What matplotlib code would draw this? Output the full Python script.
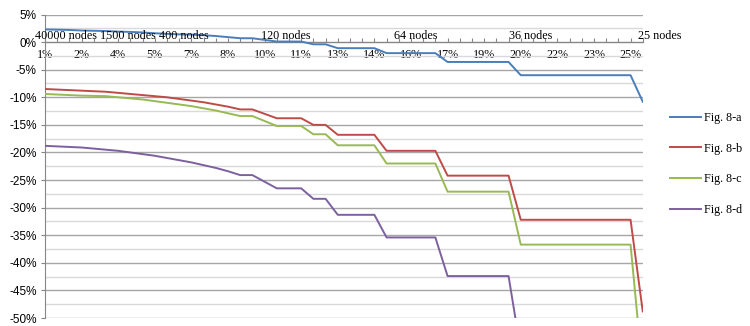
import matplotlib.pyplot as plt
import matplotlib.ticker as mticker
import numpy as np

# x categories (50 points), labelled every third one
tick_labels = ["1%", "2%", "4%", "5%", "7%", "8%", "10%", "11%", "13%", "14%",
               "16%", "17%", "19%", "20%", "22%", "23%", "25%"]

fig_a = [2.3, 2.25, 2.2, 2.1, 2.05, 2.0, 1.9, 1.85, 1.75, 1.6,
         1.5, 1.4, 1.35, 1.25, 1.1, 0.9, 0.7, 0.7, 0.4, 0.1,
         0.1, 0.1, -0.4, -0.4, -1.1, -1.1, -1.1, -1.1, -2.0, -2.0,
         -2.0, -2.0, -2.0, -3.6, -3.6, -3.6, -3.6, -3.6, -3.6, -6.0,
         -6.0, -6.0, -6.0, -6.0, -6.0, -6.0, -6.0, -6.0, -6.0, -10.8]
fig_b = [-8.5, -8.6, -8.7, -8.8, -8.9, -9.0, -9.2, -9.4, -9.6, -9.8,
         -10.0, -10.3, -10.6, -10.9, -11.3, -11.7, -12.2, -12.2, -13.0, -13.8,
         -13.8, -13.8, -15.0, -15.0, -16.8, -16.8, -16.8, -16.8, -19.7, -19.7,
         -19.7, -19.7, -19.7, -24.2, -24.2, -24.2, -24.2, -24.2, -24.2, -32.2,
         -32.2, -32.2, -32.2, -32.2, -32.2, -32.2, -32.2, -32.2, -32.2, -48.8]
fig_c = [-9.4, -9.5, -9.6, -9.7, -9.75, -9.8, -10.0, -10.2, -10.4, -10.7,
         -11.0, -11.3, -11.6, -12.0, -12.4, -12.9, -13.4, -13.4, -14.3, -15.2,
         -15.2, -15.2, -16.7, -16.7, -18.7, -18.7, -18.7, -18.7, -22.0, -22.0,
         -22.0, -22.0, -22.0, -27.1, -27.1, -27.1, -27.1, -27.1, -27.1, -36.7,
         -36.7, -36.7, -36.7, -36.7, -36.7, -36.7, -36.7, -36.7, -36.7, -60.0]
fig_d = [-18.8, -18.9, -19.0, -19.1, -19.3, -19.5, -19.7, -20.0, -20.3, -20.6,
         -21.0, -21.4, -21.8, -22.3, -22.8, -23.4, -24.1, -24.1, -25.3, -26.5,
         -26.5, -26.5, -28.4, -28.4, -31.3, -31.3, -31.3, -31.3, -35.4, -35.4,
         -35.4, -35.4, -35.4, -42.4, -42.4, -42.4, -42.4, -42.4, -42.4, -56.0,
         -56.0, -56.0, -56.0, -56.0, -56.0, -56.0, -56.0, -56.0, -56.0, -75.0]

node_labels = ["40000 nodes", "1500 nodes", "400 nodes", "120 nodes",
               "64 nodes", "36 nodes", "25 nodes"]
node_pos = [1.75, 6.8, 11.35, 19.75, 30.4, 39.8, 50.4]

plt.rcParams['font.family'] = ['Liberation Serif', 'DejaVu Serif']
plt.rcParams['font.size'] = 8.7

fig = plt.figure(figsize=(7.5, 3.26), dpi=100)
ax = fig.add_axes([0.06, 0.0245, 0.797, 0.931])

x = np.arange(len(fig_a))
series = [("Fig. 8-a", fig_a, "#4a7ebb"),
          ("Fig. 8-b", fig_b, "#be4b48"),
          ("Fig. 8-c", fig_c, "#98b954"),
          ("Fig. 8-d", fig_d, "#7d60a0")]
for name, vals, col in series:
    ax.plot(x, vals, color=col, lw=1.4, label=name, zorder=3)

ax.set_xlim(0, len(x) - 1)
ax.set_ylim(-50, 5)

ax.yaxis.set_major_locator(mticker.MultipleLocator(5))
ax.yaxis.set_minor_locator(mticker.MultipleLocator(2.5))
ax.yaxis.set_major_formatter(mticker.FuncFormatter(lambda v, p: f"{int(round(v))}%"))
ax.grid(axis='y', which='major', color='#a6a6a6', lw=1.0)
ax.grid(axis='y', which='minor', color='#d9d9d9', lw=1.0)
ax.set_axisbelow(True)

ax.set_xticks(x)
ax.set_xticklabels([tick_labels[i // 3] if i % 3 == 0 else "" for i in x])
ax.tick_params(axis='x', direction='in', length=3, color='#868686', pad=5)
ax.tick_params(axis='y', which='major', direction='out', length=3, color='#868686', pad=3)
ax.tick_params(axis='y', which='minor', length=0)
for lab in ax.get_yticklabels():
    lab.set_fontfamily(['Liberation Sans', 'DejaVu Sans'])
    lab.set_fontsize(8.5)

ax.spines['top'].set_visible(False)
ax.spines['right'].set_visible(False)
ax.spines['left'].set_color('#868686')
ax.spines['bottom'].set_color('#868686')
ax.spines['bottom'].set_position(('data', 0))

for lab, xp in zip(node_labels, node_pos):
    ax.text(xp, 1.1, lab, ha='center', va='center', clip_on=False, zorder=4)

ax.legend(loc='upper left', bbox_to_anchor=(0.893, 0.657), bbox_transform=fig.transFigure,
          frameon=False, handlelength=2.6, handletextpad=0.2, labelspacing=1.55,
          borderpad=0, borderaxespad=0)

fig.savefig("out.png", dpi=100)
